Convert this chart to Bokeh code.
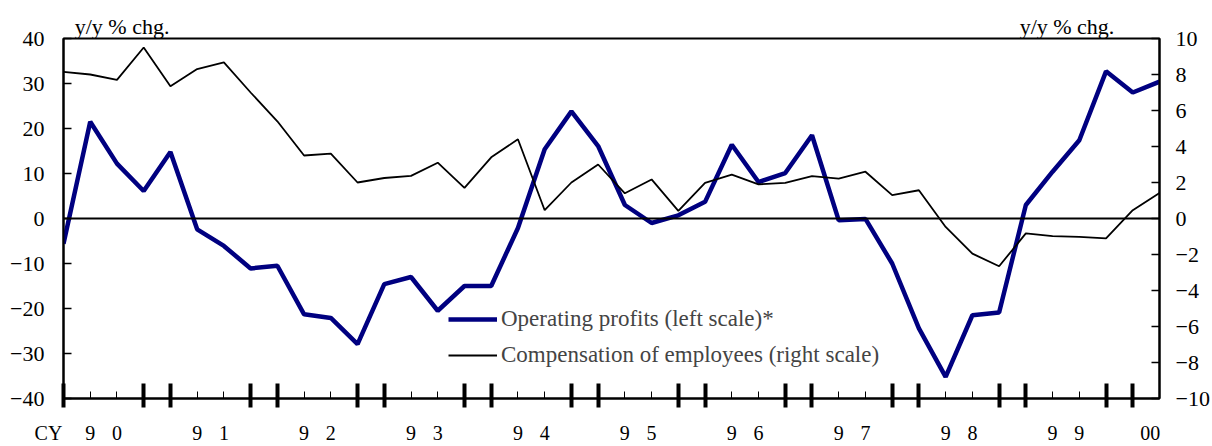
import numpy as np
from bokeh.plotting import figure
from bokeh.models import (Range1d, LinearAxis, FixedTicker, Span, Legend, LegendItem)
from bokeh.embed import file_html
from bokeh.resources import INLINE

# quarterly data, CY1990 Q1 .. CY2000 Q2
profits = [-5.6, 21.5, 12.2, 6.1, 14.8, -2.4, -6.1, -11.1, -10.5, -21.3, -22.1, -27.9,
           -14.6, -13.0, -20.5, -15.0, -15.0, -2.1, 15.4, 23.8, 16.1, 3.0, -1.0, 0.7,
           3.7, 16.4, 8.1, 10.1, 18.5, -0.4, -0.1, -10.0, -24.4, -35.2, -21.5, -20.9,
           3.0, 10.4, 17.4, 32.7, 28.0, 30.4]
compensation = [8.15, 8.0, 7.7, 9.5, 7.35, 8.3, 8.67, 7.0, 5.4, 3.5, 3.6, 2.0,
                2.25, 2.37, 3.1, 1.7, 3.4, 4.4, 0.46, 2.0, 3.0, 1.4, 2.17, 0.42,
                1.98, 2.44, 1.9, 1.98, 2.35, 2.22, 2.6, 1.3, 1.57, -0.47, -1.95, -2.65,
                -0.83, -0.98, -1.02, -1.1, 0.46, 1.42]
years = ["90", "91", "92", "93", "94", "95", "96", "97", "98", "99"]
last_year = "00"
axis_prefix = "CY"
unit_label = "y/y % chg."
left_ticks = [-40, -30, -20, -10, 0, 10, 20, 30, 40]
right_ticks = [-10, -8, -6, -4, -2, 0, 2, 4, 6, 8, 10]

x = list(range(len(profits)))
n = len(profits)
FONT = "Liberation Serif"
NBSP = "\u00a0"

p = figure(width=1212, height=446, output_backend="svg", toolbar_location=None,
           x_range=Range1d(0, n - 1), y_range=Range1d(-40, 40),
           min_border_left=63, min_border_right=53, min_border_top=38, min_border_bottom=48)
p.extra_y_ranges = {"right": Range1d(-10, 10)}
p.grid.visible = False
p.outline_line_color = "black"
p.outline_line_width = 2
p.background_fill_color = "white"
p.border_fill_color = "white"

# left axis
ly = p.yaxis[0]
ly.ticker = FixedTicker(ticks=left_ticks)
ly.major_tick_in = 8
ly.major_tick_out = 0
ly.minor_tick_line_color = None
ly.axis_line_width = 2
ly.major_tick_line_width = 1.5
ly.major_label_standoff = 19
ly.major_label_text_font = FONT
ly.major_label_text_font_size = "22px"
ly.major_label_text_color = "black"

# right axis
ry = LinearAxis(y_range_name="right", ticker=FixedTicker(ticks=right_ticks))
ry.major_tick_in = 8
ry.major_tick_out = 0
ry.minor_tick_line_color = None
ry.axis_line_width = 2
ry.major_tick_line_width = 1.5
ry.major_label_standoff = 16
ry.major_label_text_font = FONT
ry.major_label_text_font_size = "22px"
ry.major_label_text_color = "black"
p.add_layout(ry, "right")

# bottom axis: thick ticks at year separators, thin ticks every quarter
thick = [0] + [t for k in range(1, len(years) + 1) for t in (4 * k - 1, 4 * k)]
bx = p.xaxis[0]
bx.ticker = FixedTicker(ticks=thick, minor_ticks=x)
bx.major_tick_in = 15
bx.major_tick_out = 9
bx.major_tick_line_width = 4
bx.minor_tick_in = 7
bx.minor_tick_out = 0
bx.minor_tick_line_width = 1
bx.axis_line_width = 2
bx.major_label_overrides = {t: "" for t in thick}
bx.major_label_text_font_size = "0px"
bx.major_label_standoff = 0

# second bottom axis carrying the year labels (one digit per quarter)
lab = {0: axis_prefix + NBSP * 6, 40.65: last_year}
for k, yr in enumerate(years):
    lab[1 + 4 * k] = yr[0]
    lab[2 + 4 * k] = yr[1]
yx = LinearAxis(ticker=FixedTicker(ticks=sorted(lab)), major_label_overrides=lab)
yx.axis_line_color = None
yx.major_tick_line_color = None
yx.minor_tick_line_color = None
yx.major_tick_in = 0
yx.major_tick_out = 0
yx.major_label_standoff = 14
yx.major_label_text_font = FONT
yx.major_label_text_font_size = "20px"
yx.major_label_text_color = "black"
p.add_layout(yx, "below")

# axis carrying the unit labels above the frame
ux_lab = {2.19: unit_label, 37.54: unit_label}
ux = LinearAxis(ticker=FixedTicker(ticks=sorted(ux_lab)), major_label_overrides=ux_lab)
ux.axis_line_color = None
ux.major_tick_line_color = None
ux.minor_tick_line_color = None
ux.major_tick_in = 0
ux.major_tick_out = 0
ux.major_label_standoff = 0
ux.major_label_text_font = FONT
ux.major_label_text_font_size = "22px"
ux.major_label_text_color = "black"
p.add_layout(ux, "above")

# zero line
p.add_layout(Span(location=0, dimension="width", line_color="black", line_width=2))

r1 = p.line(x, profits, line_color="#000080", line_width=4.5)
r2 = p.line(x, compensation, line_color="black", line_width=1.8, y_range_name="right")

legend = Legend(items=[LegendItem(label="Operating profits (left scale)*", renderers=[r1]),
                       LegendItem(label="Compensation of employees (right scale)", renderers=[r2])],
                location=(385, 25), glyph_width=49, glyph_height=36, label_height=36,
                label_standoff=4, spacing=0, padding=0, margin=0,
                label_text_font=FONT, label_text_font_size="23px",
                border_line_color=None, background_fill_alpha=0)
p.add_layout(legend, "center")

open("out.html", "w").write(file_html(p, INLINE))
